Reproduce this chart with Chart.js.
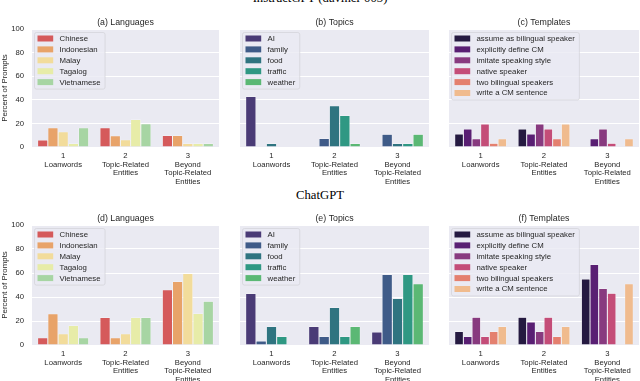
<!DOCTYPE html>
<html>
<head>
<meta charset="utf-8">
<script src="https://cdn.jsdelivr.net/npm/chart.js@4.4.0/dist/chart.umd.min.js"></script>
<style>
  html, body { margin: 0; padding: 0; background: #fff; }
  body { width: 640px; height: 381px; position: relative; overflow: hidden; }
  canvas { position: absolute; }
  .fig-title { position: absolute; left: 0; width: 640px; text-align: center; font-family: "Liberation Serif", "Times New Roman", serif; font-size: 12.7px; line-height: 13px; color: #000; white-space: nowrap; }
</style>
</head>
<body>
<div class="fig-title" style="top:-8px;">InstructGPT (davinci-003)</div>
<div class="fig-title" style="top:189px;">ChatGPT</div>
<canvas id="pa" width="219" height="190" style="left:0;top:0"></canvas>
<canvas id="pb" width="189" height="190" style="left:240px;top:0"></canvas>
<canvas id="pc" width="190" height="190" style="left:449px;top:0"></canvas>
<canvas id="pd" width="219" height="191" style="left:0;top:190px"></canvas>
<canvas id="pe" width="189" height="191" style="left:240px;top:190px"></canvas>
<canvas id="pf" width="190" height="191" style="left:449px;top:190px"></canvas>
<script>
const categories = [['1', 'Loanwords'], ['2', 'Topic-Related', 'Entities'], ['3', 'Beyond', 'Topic-Related', 'Entities']];

const languages = ['Chinese', 'Indonesian', 'Malay', 'Tagalog', 'Vietnamese'];
const topics = ['AI', 'family', 'food', 'traffic', 'weather'];
const templates = ['assume as bilingual speaker', 'explicitly define CM', 'imitate speaking style',
                   'native speaker', 'two bilingual speakers', 'write a CM sentence'];

const languageColors = ['#d55a5b', '#e8a369', '#f2dc9b', '#e7eca8', '#a7d5a3'];
const topicColors = ['#4a3b76', '#3f5b88', '#2f7480', '#2f9883', '#5bb874'];
const templateColors = ['#251a41', '#591f73', '#883a7f', '#c44d78', '#e4806f', '#f0bb8e'];

// one row per series, values for categories 1 / 2 / 3 (percent of prompts)
const instructLanguages = [
  [6, 16.3, 9.8],
  [16.3, 9.6, 9.8],
  [13, 6.2, 3],
  [3, 23.3, 3],
  [16.3, 19.6, 3],
];
const instructTopics = [
  [42.9, 0, 0],
  [0, 7.2, 10.7],
  [3, 35, 3],
  [0, 26.8, 3],
  [0, 3, 10.7],
];
const instructTemplates = [
  [11.1, 15.2, 0],
  [15.2, 11.1, 6.9],
  [6.9, 19.4, 15.2],
  [19.4, 15.2, 3.2],
  [3.2, 6.9, 0],
  [6.9, 19.4, 6.9],
];
const chatLanguages = [
  [6, 23, 46],
  [26, 6, 53],
  [9.4, 9.4, 59.5],
  [16.2, 23, 26.3],
  [6, 23, 36.4],
];
const chatTopics = [
  [43, 15.4, 10.9],
  [3.4, 7, 58.8],
  [15.4, 31.2, 38.8],
  [7, 7, 58.8],
  [0, 15.4, 51],
];
const chatTemplates = [
  [11.2, 23.1, 54.9],
  [7, 19.2, 67.1],
  [23.1, 11.2, 47.1],
  [7, 23.1, 43.2],
  [11.2, 7, 0],
  [15.4, 15.4, 51],
];

Chart.defaults.font.family = '"Liberation Sans", Arial, sans-serif';
Chart.defaults.color = '#262626';

// grey panel background, subplot title and the in-axes legend
const panelPlugin = {
  id: 'panel',
  beforeDraw(chart) {
    const a = chart.chartArea, ctx = chart.ctx;
    ctx.save();
    ctx.fillStyle = '#eaeaf2';
    ctx.fillRect(a.left, a.top, a.right - a.left, a.bottom - a.top);
    ctx.restore();
  },
  afterDatasetsDraw(chart) {
    const a = chart.chartArea, ctx = chart.ctx;
    const sets = chart.data.datasets;
    ctx.save();
    ctx.font = '7.8px "Liberation Sans", Arial, sans-serif';
    let maxW = 0;
    sets.forEach(ds => { maxW = Math.max(maxW, ctx.measureText(ds.label).width); });
    const x0 = a.left + 2, y0 = a.top + 3, rowH = 10.9;
    const w = 25.5 + maxW + 4, h = 13 + rowH * (sets.length - 1);
    ctx.fillStyle = 'rgba(234,234,242,0.8)';
    ctx.strokeStyle = 'rgba(210,210,216,0.9)';
    ctx.lineWidth = 0.8;
    ctx.beginPath();
    ctx.roundRect(x0 + 0.5, y0 + 0.5, w, h, 2);
    ctx.fill();
    ctx.stroke();
    ctx.textBaseline = 'middle';
    sets.forEach((ds, i) => {
      const cy = y0 + 6.5 + i * rowH;
      ctx.fillStyle = ds.backgroundColor;
      ctx.fillRect(x0 + 3.5, cy - 3, 15.7, 6);
      ctx.fillStyle = '#262626';
      ctx.fillText(ds.label, x0 + 25.5, cy + 0.3);
    });
    ctx.restore();
  },
  afterDraw(chart, args, opts) {
    const a = chart.chartArea, ctx = chart.ctx;
    ctx.save();
    ctx.font = '8.8px "Liberation Sans", Arial, sans-serif';
    ctx.fillStyle = '#262626';
    ctx.textAlign = 'center';
    ctx.textBaseline = 'alphabetic';
    ctx.fillText(opts.title, (a.left + a.right) / 2, a.top - 4);
    ctx.restore();
  }
};

function makePanel(id, title, labels, colors, values, firstCol, topRow) {
  const datasets = labels.map((label, i) => ({
    label: label,
    data: values[i],
    backgroundColor: colors[i],
    borderColor: '#ffffff',
    borderWidth: 0.5,
    categoryPercentage: 0.82,
    barPercentage: 1.0,
  }));

  return new Chart(document.getElementById(id), {
    type: 'bar',
    data: { labels: categories, datasets: datasets },
    options: {
      responsive: false,
      animation: false,
      layout: { padding: { top: topRow ? 29 : 35, left: 0, right: 0, bottom: 0 } },
      scales: {
        x: {
          grid: { display: false, drawTicks: false },
          border: { display: false },
          ticks: { color: '#262626', font: { size: 7.7, lineHeight: 1.1 }, padding: 5, maxRotation: 0, autoSkip: false },
          afterFit: s => { s.height = topRow ? 43 : 36; }
        },
        y: {
          min: 0,
          max: 100,
          grid: { color: '#ffffff', lineWidth: 1, drawTicks: false },
          border: { display: false },
          ticks: { display: firstCol, stepSize: 20, padding: 8, color: '#262626', font: { size: 7.7 } },
          title: { display: firstCol, text: 'Percent of Prompts', color: '#262626', font: { size: 7.9 }, padding: 0 },
          afterFit: s => { s.width = firstCol ? 32 : 0; }
        }
      },
      plugins: {
        legend: { display: false },
        tooltip: { enabled: false },
        panel: { title: title }
      }
    },
    plugins: [panelPlugin]
  });
}

makePanel('pa', '(a) Languages', languages, languageColors, instructLanguages, true, true);
makePanel('pb', '(b) Topics', topics, topicColors, instructTopics, false, true);
makePanel('pc', '(c) Templates', templates, templateColors, instructTemplates, false, true);
makePanel('pd', '(d) Languages', languages, languageColors, chatLanguages, true, false);
makePanel('pe', '(e) Topics', topics, topicColors, chatTopics, false, false);
makePanel('pf', '(f) Templates', templates, templateColors, chatTemplates, false, false);
</script>
</body>
</html>
